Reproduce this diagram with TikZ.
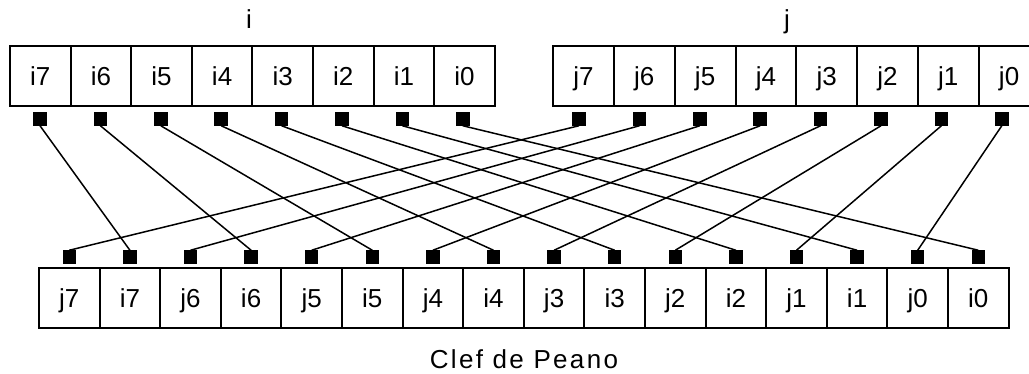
\documentclass[tikz,border=0pt]{standalone}
\usepackage{fontspec}
\setmainfont{Liberation Sans}
\usetikzlibrary{positioning}

\begin{document}
\begin{tikzpicture}[x=1pt, y=-1pt,
        cell/.style={draw, line width=2pt, outer sep=0pt, inner sep=0pt,
                minimum width=60.6pt, minimum height=60pt, text depth=0pt,
                font=\fontsize{26}{26}\selectfont},
        pin/.style={fill=black, minimum size=13.5pt, inner sep=0pt, outer sep=0pt},
        wire/.style={line width=1.5pt},
        tag/.style={anchor=base, inner sep=0pt, font=\fontsize{26}{26}\selectfont}]
        \useasboundingbox (0,0) rectangle (1029,374);

        % the two keys
        \node[tag] (lbli) at (249,29) {i};
        \node[tag] (lblj) at (787,29) {j};
        \foreach \n [count=\k from 0] in {7,...,0} {
                \node[cell] (i\n) at ({40.3+60.6*\k},76) {i\n};
                \node[cell, minimum width=60.8pt] (j\n) at ({583.5+60.8*\k},76) {j\n};
                \node[pin]  (pi\n) at ({40+60.4*\k},119) {};
                \node[pin]  (pj\n) at ({579+60.4*\k},119) {};
        }

        % interleaved key
        \foreach \n [count=\k from 0] in {7,...,0} {
                \node[cell] (bj\n) at ({69.3+121.2*\k},298.5) {j\n};
                \node[cell] (bi\n) at ({129.9+121.2*\k},298.5) {i\n};
                \node[pin]  (qj\n) at ({69.3+121.2*\k},257) {};
                \node[pin]  (qi\n) at ({129.9+121.2*\k},257) {};
                \draw[wire] (pi\n.south) -- (qi\n.north);
                \draw[wire] (pj\n.south) -- (qj\n.north);
        }
        \node[tag, font=\fontsize{26}{26}\selectfont\addfontfeature{LetterSpace=9}] (peano) at (524,368) {Clef de Peano};
\end{tikzpicture}
\end{document}
